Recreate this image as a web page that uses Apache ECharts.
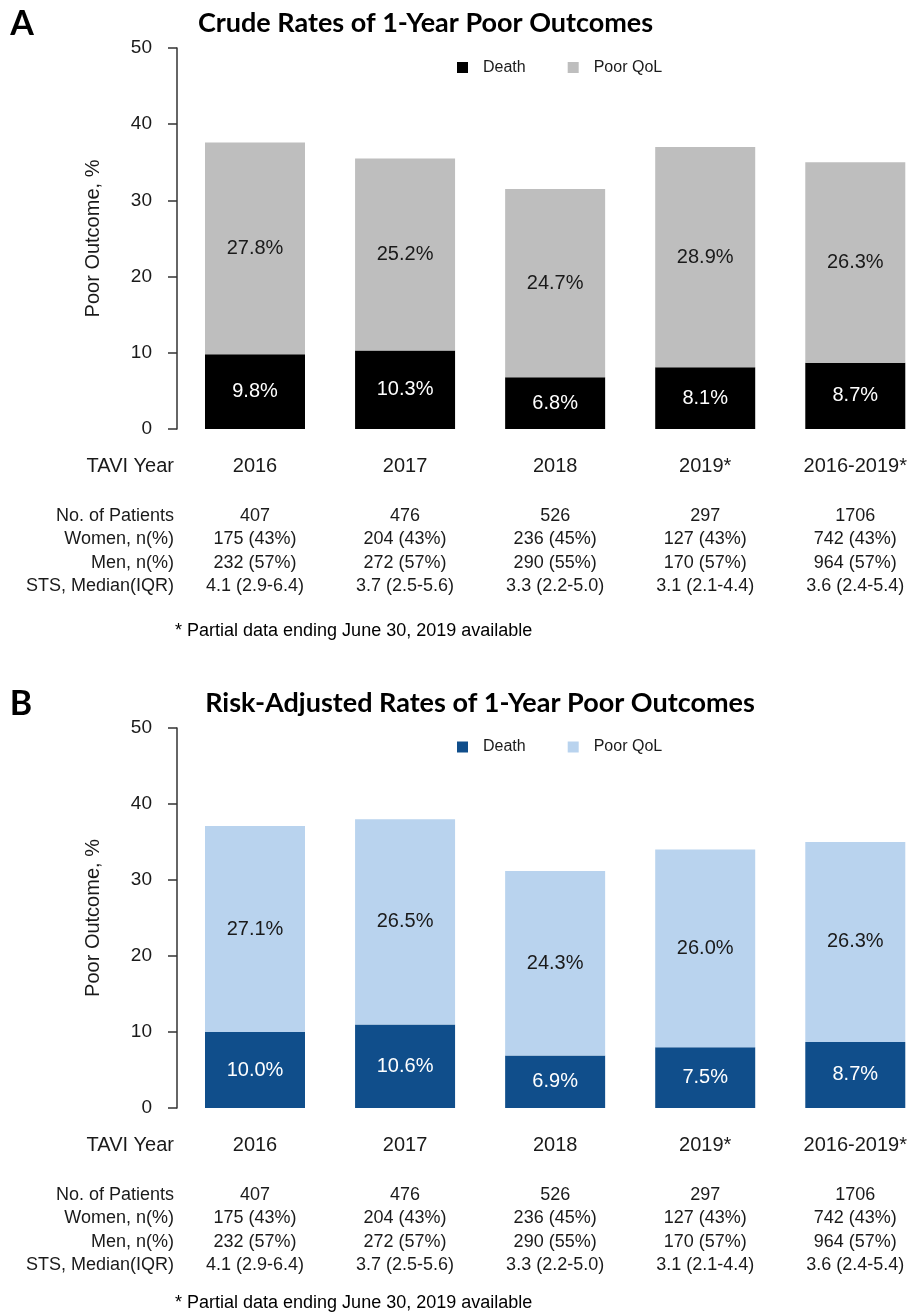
<!DOCTYPE html>
<html>
<head>
<meta charset="utf-8">
<script src="https://cdn.jsdelivr.net/npm/echarts@6/dist/echarts.min.js"></script>
<style>
html,body{margin:0;padding:0;background:#fff;}
#chart{width:910px;height:1314px;}
</style>
</head>
<body>
<div id="chart"></div>
<script>
// ---- data ----
const categories = ['2016', '2017', '2018', '2019*', '2016-2019*'];
const yTicks = [0, 10, 20, 30, 40, 50];

// Panel A: crude rates (%)
const deathA = [9.8, 10.3, 6.8, 8.1, 8.7];
const qolA = [27.8, 25.2, 24.7, 28.9, 26.3];

// Panel B: risk-adjusted rates (%), bar heights as drawn
const deathB = [10.0, 11.0, 6.9, 8.0, 8.7];
const qolB = [27.1, 27.0, 24.3, 26.0, 26.3];
// Panel B printed labels
const deathBLabels = ['10.0%', '10.6%', '6.9%', '7.5%', '8.7%'];
const qolBLabels = ['27.1%', '26.5%', '24.3%', '26.0%', '26.3%'];

// table rows
const rowNames = ['No. of Patients', 'Women, n(%)', 'Men, n(%)', 'STS, Median(IQR)'];
const nPatients = ['407', '476', '526', '297', '1706'];
const women = ['175 (43%)', '204 (43%)', '236 (45%)', '127 (43%)', '742 (43%)'];
const men = ['232 (57%)', '272 (57%)', '290 (55%)', '170 (57%)', '964 (57%)'];
const sts = ['4.1 (2.9-6.4)', '3.7 (2.5-5.6)', '3.3 (2.2-5.0)', '3.1 (2.1-4.4)', '3.6 (2.4-5.4)'];
const tableRows = [nPatients, women, men, sts];

const footnote = '* Partial data ending June 30, 2019 available';

// ---- styling ----
const FONT = '"Liberation Sans", Arial, sans-serif';
const TFONT = 'Lato, "Open Sans", sans-serif';
const TXT = '#1a1a1a';
const colors = [
  { death: '#000000', qol: '#BEBEBE' },
  { death: '#104E8B', qol: '#B9D3EE' }
];

const chart = echarts.init(document.getElementById('chart'), null, { renderer: 'canvas' });

// grid spans first to last category centre (boundaryGap false)
const GRID_LEFT = 255;
const GRID_W = 601;
const AXIS_X = 177;
const NAME_RIGHT = 174;

const rowOffsets = [87, 110.5, 134, 157.5];
const xAxes = [];
const seriesList = [];
const mainAxisIdx = [];

[0, 1].forEach(function (p) {
  mainAxisIdx.push(xAxes.length);
  xAxes.push({
    gridIndex: p, type: 'category', data: categories, boundaryGap: false,
    axisLine: { show: false }, axisTick: { show: false }, axisLabel: { show: false }
  });
  xAxes.push({
    gridIndex: p, type: 'category', data: categories, boundaryGap: false, position: 'bottom', offset: 37,
    axisLine: { show: false }, axisTick: { show: false },
    axisLabel: { interval: 0, margin: 0, verticalAlign: 'middle', fontSize: 20, color: TXT, fontFamily: FONT },
    name: 'TAVI Year', nameLocation: 'start', nameGap: GRID_LEFT - NAME_RIGHT,
    nameTextStyle: { fontSize: 20, color: TXT, fontFamily: FONT, align: 'right', verticalAlign: 'middle' }
  });
  tableRows.forEach(function (row, r) {
    xAxes.push({
      gridIndex: p, type: 'category', data: row, boundaryGap: false, position: 'bottom', offset: rowOffsets[r],
      axisLine: { show: false }, axisTick: { show: false },
      axisLabel: { interval: 0, margin: 0, verticalAlign: 'middle', fontSize: 18, color: TXT, fontFamily: FONT },
      name: rowNames[r], nameLocation: 'start', nameGap: GRID_LEFT - NAME_RIGHT,
      nameTextStyle: { fontSize: 18, color: TXT, fontFamily: FONT, align: 'right', verticalAlign: 'middle' }
    });
  });
});

const yAxes = [0, 1].map(function (p) {
  return {
    gridIndex: p, type: 'value', min: yTicks[0], max: yTicks[yTicks.length - 1], interval: 10,
    offset: GRID_LEFT - AXIS_X,
    axisLine: { show: true, lineStyle: { color: '#333', width: 1.5 } },
    axisTick: { show: true, length: 9, lineStyle: { color: '#333', width: 1.5 } },
    axisLabel: { fontSize: 19, color: TXT, margin: 25, fontFamily: FONT },
    splitLine: { show: false },
    name: 'Poor Outcome, %', nameLocation: 'middle', nameRotate: 90, nameGap: 74,
    nameTextStyle: { fontSize: 20, color: TXT, fontFamily: FONT }
  };
});

function pct(v) { return v.toFixed(1) + '%'; }

const deathData = [deathA, deathB];
const qolData = [qolA, qolB];
const deathLab = [deathA.map(pct), deathBLabels];
const qolLab = [qolA.map(pct), qolBLabels];

[0, 1].forEach(function (p) {
  seriesList.push({
    name: 'Death', type: 'bar', stack: 'stack' + p, clip: false,
    xAxisIndex: mainAxisIdx[p], yAxisIndex: p, barWidth: 100,
    data: deathData[p],
    itemStyle: { color: colors[p].death },
    label: {
      show: true, position: 'inside', color: '#ffffff', fontSize: 20, fontFamily: FONT,
      formatter: function (prm) { return deathLab[p][prm.dataIndex]; }
    }
  });
  seriesList.push({
    name: 'Poor QoL', type: 'bar', stack: 'stack' + p, clip: false,
    xAxisIndex: mainAxisIdx[p], yAxisIndex: p, barWidth: 100,
    data: qolData[p],
    itemStyle: { color: colors[p].qol },
    label: {
      show: true, position: 'inside', color: TXT, fontSize: 20, fontFamily: FONT,
      formatter: function (prm) { return qolLab[p][prm.dataIndex]; }
    }
  });
});

const legends = [59.5, 739].map(function (top, p) {
  return {
    left: 457, top: top, padding: 0, orient: 'horizontal',
    itemWidth: 11, itemHeight: 11, itemGap: 42, icon: 'rect', selectedMode: false,
    data: [
      { name: 'Death', itemStyle: { color: colors[p].death } },
      { name: 'Poor QoL', itemStyle: { color: colors[p].qol } }
    ],
    textStyle: { fontSize: 16, color: TXT, fontFamily: FONT, padding: [0, 0, 0, 10] }
  };
});

function txt(text, x, y, font, align) {
  return {
    type: 'text', x: x, y: y, silent: true,
    style: { text: text, font: font, fill: '#000', align: align || 'center', verticalAlign: 'middle' }
  };
}

const option = {
  animation: false,
  backgroundColor: '#ffffff',
  grid: [
    { left: GRID_LEFT, top: 48, width: GRID_W, height: 381 },
    { left: GRID_LEFT, top: 728, width: GRID_W, height: 380 }
  ],
  legend: legends,
  xAxis: xAxes,
  yAxis: yAxes,
  series: seriesList,
  graphic: [
    txt('A', 22, 24, 'bold 34px ' + TFONT),
    txt('Crude Rates of 1-Year Poor Outcomes', 425.5, 23.5, 'bold 27px ' + TFONT),
    txt('B', 21, 704, 'bold 34px ' + TFONT),
    txt('Risk-Adjusted Rates of 1-Year Poor Outcomes', 480, 703, 'bold 27px ' + TFONT),
    txt(footnote, 175, 630.7, '18px ' + FONT, 'left'),
    txt(footnote, 175, 1303.3, '18px ' + FONT, 'left')
  ]
};

chart.setOption(option);
</script>
</body>
</html>
